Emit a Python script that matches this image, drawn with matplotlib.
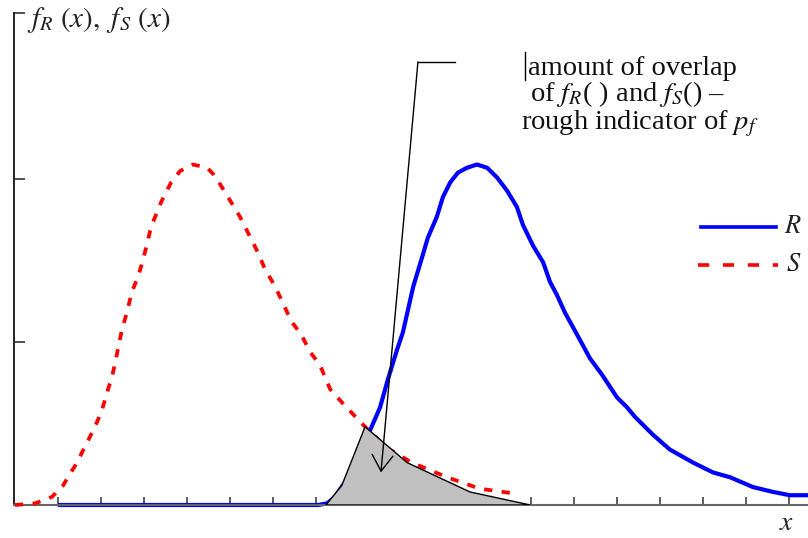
import matplotlib
matplotlib.use("Agg")
import matplotlib.pyplot as plt

plt.rcParams['mathtext.fontset'] = 'stix'
plt.rcParams['font.family'] = ['Liberation Serif', 'STIXGeneral', 'DejaVu Serif']

# ---- data (x in tick units, y in y-tick units) ----
s_x = [0.0, 0.47, 0.86, 1.12, 1.23, 1.42, 1.63, 1.86, 2.02, 2.14, 2.26, 2.35, 2.42, 2.49,
       2.60, 2.72, 2.86, 2.95, 3.05, 3.14, 3.23, 3.40, 3.63, 3.84, 4.14, 4.47, 4.65, 5.00,
       5.23, 5.42, 5.63, 5.81, 6.05, 6.23, 6.42, 6.67, 6.86, 7.09, 7.33, 7.67, 8.14, 8.65,
       9.23, 10.05, 10.81, 11.63]
s_y = [0.00, 0.01, 0.05, 0.12, 0.17, 0.25, 0.36, 0.48, 0.58, 0.69, 0.79, 0.90, 0.99, 1.08,
       1.18, 1.31, 1.40, 1.48, 1.58, 1.68, 1.75, 1.86, 1.98, 2.05, 2.09, 2.07, 2.02, 1.87,
       1.77, 1.67, 1.56, 1.45, 1.34, 1.24, 1.13, 1.04, 0.94, 0.86, 0.71, 0.61, 0.48, 0.35,
       0.26, 0.17, 0.10, 0.07]

r_x = [1.00, 7.05, 7.26, 7.44, 7.67, 7.91, 8.09, 8.26, 8.49, 8.67, 8.88, 9.02, 9.26, 9.42,
       9.60, 9.81, 9.95, 10.12, 10.30, 10.51, 10.74, 10.98, 11.21, 11.44, 11.67, 11.81,
       12.05, 12.28, 12.44, 12.60, 12.79, 13.02, 13.37, 13.65, 14.00, 14.23, 14.42, 14.84,
       15.23, 15.77, 16.23, 16.63, 17.16, 17.63, 18.02, 18.44]
r_y = [0.00, 0.00, 0.01, 0.05, 0.14, 0.26, 0.40, 0.46, 0.60, 0.77, 0.95, 1.06, 1.34, 1.48,
       1.64, 1.77, 1.89, 1.98, 2.04, 2.07, 2.09, 2.07, 2.01, 1.93, 1.83, 1.72, 1.59, 1.49,
       1.37, 1.29, 1.18, 1.07, 0.90, 0.80, 0.66, 0.60, 0.54, 0.43, 0.34, 0.26, 0.20, 0.17,
       0.11, 0.08, 0.06, 0.06]

overlap_x = [7.23, 7.60, 8.14, 9.12, 10.58, 11.98]
overlap_y = [0.0, 0.12, 0.48, 0.26, 0.08, 0.0]

x_ticks = list(range(1, 19))
y_ticks = [1, 2, 3.02]

fig = plt.figure(figsize=(8.08, 5.38), dpi=100)
ax = fig.add_axes([14/808, 33/538, 794/808, 492/538])
ax.set_xlim(-0.023, 18.44)
ax.set_ylim(0, 3.02)

ax.plot(r_x, r_y, color='#0000ff', lw=3.0, solid_capstyle='butt', zorder=2, clip_on=False)
ax.plot(s_x, s_y, color='#ff0000', lw=2.7, dashes=(2.2, 2.5), zorder=3, clip_on=False)
ax.fill(overlap_x, overlap_y, facecolor='#c0c0c0', edgecolor='black', lw=1.0, zorder=4)

# spines / ticks
for side in ['top', 'right']:
    ax.spines[side].set_visible(False)
ax.spines['left'].set_color('#222222')
ax.spines['left'].set_linewidth(1.4)
ax.spines['bottom'].set_color('#666666')
ax.spines['bottom'].set_linewidth(1.5)
ax.set_xticks(x_ticks)
ax.set_yticks(y_ticks)
ax.set_xticklabels([])
ax.set_yticklabels([])
ax.tick_params(axis='x', direction='in', length=6, width=1.1, color='#333333')
ax.tick_params(axis='y', direction='in', length=8, width=1.1, color='#222222')

serif = ['Liberation Serif', 'STIXGeneral', 'DejaVu Serif']

# axis labels
fig.text(27/808, 1 - 27/538, r'$f_{R}\ (x),\ f_{S}\ (x)$', fontsize=21, ha='left',
         va='baseline', color='#222222')
fig.text(787/808, 1 - 530/538, r'$x$', fontsize=20, ha='center', va='baseline', color='#222222')

# annotation arrow
ax.plot([9.37, 10.23], [2.72, 2.72], color='black', lw=1.0, zorder=6)
ax.annotate('', xy=(8.51, 0.20), xytext=(9.37, 2.72),
            arrowprops=dict(arrowstyle='->,head_length=1.15,head_width=0.75', color='black',
                            lw=1.0, shrinkA=0, shrinkB=0, mutation_scale=10), zorder=6)
ax.plot([11.86, 11.86], [2.61, 2.78], color='black', lw=1.0, zorder=6)

fig.text(528/808, 1 - 75/538, 'amount of overlap', fontsize=20.5, ha='left', va='baseline',
         color='#111111', family=serif)
fig.text(628/808, 1 - 101/538, r'of $f_R$( ) and $f_S$() –', fontsize=20.5, ha='center',
         va='baseline', color='#111111', family=serif)
fig.text(640/808, 1 - 129/538, r'rough indicator of $p_f$', fontsize=20.5, ha='center',
         va='baseline', color='#111111', family=serif)

# legend (drawn manually)
fig.lines.append(plt.Line2D([701/808, 776/808], [1 - 227/538, 1 - 227/538], color='#0000ff',
                            lw=2.6, transform=fig.transFigure))
fig.lines.append(plt.Line2D([698/808, 778/808], [1 - 265/538, 1 - 265/538], color='#ff0000',
                            lw=2.6, dashes=(3.1, 3.8), transform=fig.transFigure))
fig.text(793/808, 1 - 227/538, r'$R$', fontsize=19, ha='center', va='center', color='#222222')
fig.text(794/808, 1 - 265/538, r'$S$', fontsize=19, ha='center', va='center', color='#222222')

fig.savefig('out.png', dpi=100)
